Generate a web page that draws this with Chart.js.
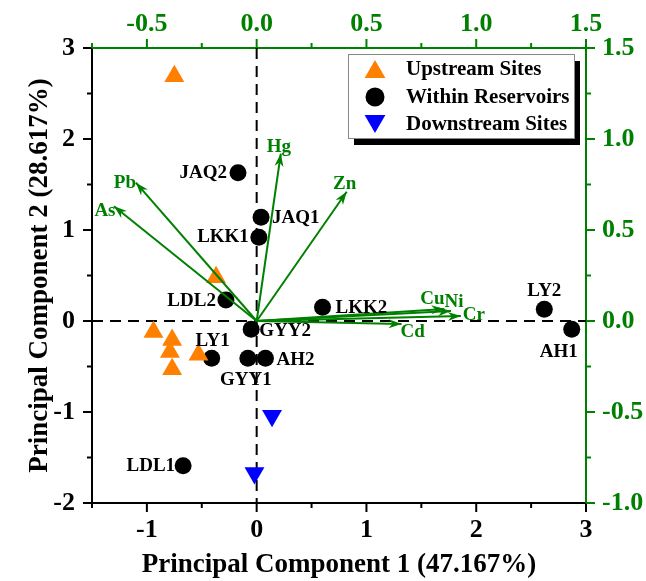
<!DOCTYPE html>
<html>
<head>
<meta charset="utf-8">
<script src="https://cdn.jsdelivr.net/npm/chart.js@4.4.1/dist/chart.umd.min.js"></script>
<style>
  html, body { margin: 0; padding: 0; background: #fff; }
  #wrap { width: 646px; height: 581px; }
</style>
</head>
<body>
<div id="wrap"><canvas id="pca"></canvas></div>
<script>
const upstreamX = [-0.75, -0.37, -0.94, -0.77, -0.79, -0.53, -0.77];
const upstreamY = [2.69, 0.48, -0.12, -0.21, -0.34, -0.37, -0.53];

const reservoirNames = ['JAQ2', 'JAQ1', 'LKK1', 'LDL2', 'GYY2', 'LKK2', 'LY1', 'GYY1', 'AH2', 'LY2', 'AH1', 'LDL1'];
const reservoirX = [-0.17, 0.04, 0.02, -0.28, -0.05, 0.60, -0.41, -0.08, 0.08, 2.62, 2.87, -0.67];
const reservoirY = [1.63, 1.14, 0.92, 0.23, -0.09, 0.15, -0.41, -0.41, -0.41, 0.13, -0.09, -1.59];

const downstreamX = [0.14, -0.02];
const downstreamY = [-1.04, -1.67];

const metalNames = ['Hg', 'Zn', 'Pb', 'As', 'Cu', 'Ni', 'Cr', 'Cd'];
const metalX = [0.11, 0.41, -0.55, -0.65, 0.855, 0.885, 0.93, 0.66];
const metalY = [0.92, 0.71, 0.76, 0.63, 0.066, 0.055, 0.027, -0.016];

// labelled ticks
const pc1TickLabels = [-1, 0, 1, 2, 3];
const pc2TickLabels = [-2, -1, 0, 1, 2, 3];
const topTickLabels = [-0.5, 0, 0.5, 1, 1.5];
const rightTickLabels = [-1, -0.5, 0, 0.5, 1, 1.5];

const GREEN = '#008000';
const ORANGE = '#FF7F00';
const BLUE = '#0000FF';
const SERIF = "'Liberation Serif', 'Times New Roman', serif";

// text placement around the markers: [textAlign, dx, dy]
const scoreLabelPlace = {
  JAQ2: ['right', -11, 0], JAQ1: ['left', 11, 1], LKK1: ['right', -10, 0],
  LDL2: ['right', -10, 1], GYY2: ['left', 8, 2], LKK2: ['left', 13, 1],
  LY1: ['center', 1, -17], GYY1: ['center', -2, 22], AH2: ['left', 11, 2],
  LY2: ['center', 0, -18], AH1: ['center', -13, 23], LDL1: ['right', -8, 0]
};
const metalLabelPlace = {
  Hg: [-2, -6], Zn: [-2, -8], Pb: [-11, 0], As: [-9, 5],
  Cu: [-12, -10], Ni: [3, -9], Cr: [13, -1], Cd: [11, 8]
};

const pts = (xs, ys) => xs.map((x, i) => ({ x, y: ys[i] }));
const near = (a, b) => Math.abs(a - b) < 1e-6;
const inList = (list, v) => list.some(t => near(t, v));

const arrowSets = metalNames.map((name, i) => ({
  label: name,
  type: 'line',
  data: [{ x: 0, y: 0 }, { x: metalX[i], y: metalY[i] }],
  xAxisID: 'x2',
  yAxisID: 'y2',
  borderColor: GREEN,
  borderWidth: 2,
  pointRadius: 0,
  showLine: true,
  fill: false,
  order: 0
}));

const zeroLines = {
  id: 'zeroLines',
  beforeDatasetsDraw(chart) {
    const { ctx, chartArea: a, scales } = chart;
    const x0 = scales.x.getPixelForValue(0);
    const y0 = scales.y.getPixelForValue(0);
    ctx.save();
    ctx.strokeStyle = '#000';
    ctx.lineWidth = 2;
    ctx.setLineDash([11, 7]);
    ctx.beginPath();
    ctx.moveTo(x0, a.top); ctx.lineTo(x0, a.bottom);
    ctx.moveTo(a.left, y0); ctx.lineTo(a.right, y0);
    ctx.stroke();
    ctx.restore();
  }
};

const tickMarks = {
  id: 'tickMarks',
  afterDraw(chart) {
    const ctx = chart.ctx;
    const defs = [
      { id: 'x', major: pc1TickLabels, color: '#000' },
      { id: 'y', major: pc2TickLabels, color: '#000' },
      { id: 'x2', major: topTickLabels, color: GREEN },
      { id: 'y2', major: rightTickLabels, color: GREEN }
    ];
    ctx.save();
    ctx.lineWidth = 2;
    defs.forEach(d => {
      const s = chart.scales[d.id];
      ctx.strokeStyle = d.color;
      s.ticks.forEach(t => {
        const len = inList(d.major, t.value) ? 9 : 5;
        const p = s.getPixelForValue(t.value);
        ctx.beginPath();
        if (d.id === 'x') { ctx.moveTo(p, s.top); ctx.lineTo(p, s.top + len); }
        if (d.id === 'x2') { ctx.moveTo(p, s.bottom); ctx.lineTo(p, s.bottom - len); }
        if (d.id === 'y') { ctx.moveTo(s.right, p); ctx.lineTo(s.right - len, p); }
        if (d.id === 'y2') { ctx.moveTo(s.left, p); ctx.lineTo(s.left + len, p); }
        ctx.stroke();
      });
    });
    ctx.restore();
  }
};

const annotate = {
  id: 'annotate',
  afterDatasetsDraw(chart) {
    const ctx = chart.ctx;
    ctx.save();
    ctx.textBaseline = 'middle';

    // arrowheads + metal labels
    chart.data.datasets.forEach((ds, di) => {
      if (ds.xAxisID !== 'x2') return;
      const meta = chart.getDatasetMeta(di);
      const o = meta.data[0], t = meta.data[1];
      const ang = Math.atan2(t.y - o.y, t.x - o.x);
      const L = 13, W = 4.5, N = 9;
      ctx.save();
      ctx.translate(t.x, t.y);
      ctx.rotate(ang);
      ctx.fillStyle = GREEN;
      ctx.beginPath();
      ctx.moveTo(0, 0);
      ctx.lineTo(-L, -W);
      ctx.lineTo(-N, 0);
      ctx.lineTo(-L, W);
      ctx.closePath();
      ctx.fill();
      ctx.restore();
      const off = metalLabelPlace[ds.label];
      ctx.fillStyle = GREEN;
      ctx.font = `bold 19px ${SERIF}`;
      ctx.textAlign = 'center';
      ctx.fillText(ds.label, t.x + off[0], t.y + off[1]);
    });

    // sample labels
    const rmeta = chart.getDatasetMeta(1);
    ctx.fillStyle = '#000';
    ctx.font = `bold 19px ${SERIF}`;
    rmeta.data.forEach((el, i) => {
      const name = reservoirNames[i];
      const [align, dx, dy] = scoreLabelPlace[name];
      ctx.textAlign = align;
      ctx.fillText(name, el.x + dx, el.y + dy);
    });

    // legend box
    const a = chart.chartArea;
    const bw = 226, bh = 84;
    const bx = a.right - 12 - bw, by = a.top + 6;
    ctx.fillStyle = '#000';
    ctx.fillRect(bx + 6, by + 7, bw, bh);
    ctx.fillStyle = '#fff';
    ctx.fillRect(bx, by, bw, bh);
    ctx.strokeStyle = '#888';
    ctx.lineWidth = 1;
    ctx.strokeRect(bx + 0.5, by + 0.5, bw, bh);
    const rows = [
      { ds: 0, text: 'Upstream Sites', cy: 15, r: 12 },
      { ds: 1, text: 'Within Reservoirs', cy: 43, r: 9.5 },
      { ds: 2, text: 'Downstream Sites', cy: 70, r: 12 }
    ];
    ctx.font = `bold 21px ${SERIF}`;
    ctx.textAlign = 'left';
    rows.forEach(row => {
      const ds = chart.data.datasets[row.ds];
      ctx.fillStyle = ds.backgroundColor;
      const shift = ds.pointStyle === 'triangle' ? (ds.pointRotation ? -3 : 3) : 0;
      Chart.helpers.drawPoint(ctx, {
        pointStyle: ds.pointStyle, radius: row.r,
        rotation: ds.pointRotation || 0, borderWidth: 0
      }, bx + 27, by + row.cy + shift);
      ctx.fillStyle = '#000';
      ctx.fillText(row.text, bx + 58, by + row.cy + 1);
    });
    ctx.restore();
  }
};

const tickFont = { family: SERIF, size: 26, weight: 'bold' };
const titleFont = { family: SERIF, size: 27, weight: 'bold' };

new Chart(document.getElementById('pca'), {
  type: 'scatter',
  data: {
    datasets: [
      {
        label: 'Upstream Sites',
        data: pts(upstreamX, upstreamY),
        pointStyle: 'triangle',
        pointRadius: 11.5,
        backgroundColor: ORANGE,
        borderWidth: 0,
        order: 1
      },
      {
        label: 'Within Reservoirs',
        data: pts(reservoirX, reservoirY),
        pointStyle: 'circle',
        pointRadius: 8.5,
        backgroundColor: '#000',
        borderWidth: 0,
        order: 1
      },
      {
        label: 'Downstream Sites',
        data: pts(downstreamX, downstreamY),
        pointStyle: 'triangle',
        pointRotation: 180,
        pointRadius: 11.5,
        backgroundColor: BLUE,
        borderWidth: 0,
        order: 1
      },
      ...arrowSets
    ]
  },
  options: {
    responsive: true,
    maintainAspectRatio: false,
    animation: false,
    events: [],
    layout: { padding: 0 },
    plugins: { legend: { display: false }, tooltip: { enabled: false } },
    scales: {
      x: {
        type: 'linear', position: 'bottom', min: -1.5, max: 3,
        afterFit: s => { s.height = 78; },
        grid: { display: false, drawTicks: false },
        border: { display: true, color: '#000', width: 2 },
        ticks: {
          stepSize: 0.5, padding: 12, color: '#000', font: tickFont, maxRotation: 0,
          autoSkip: false,
          callback: v => inList(pc1TickLabels, v) ? String(Math.round(v)) : ''
        },
        title: {
          display: true, text: 'Principal Component 1 (47.167%)', color: '#000',
          font: titleFont, padding: { top: 0, bottom: 0 }
        }
      },
      y: {
        type: 'linear', position: 'left', min: -2, max: 3,
        afterFit: s => { s.width = 92; },
        grid: { display: false, drawTicks: false },
        border: { display: true, color: '#000', width: 2 },
        ticks: {
          stepSize: 0.5, padding: 17, color: '#000', font: tickFont, autoSkip: false,
          callback: v => inList(pc2TickLabels, v) ? String(Math.round(v)) : ''
        },
        title: {
          display: true, text: 'Principal Component 2 (28.617%)', color: '#000',
          font: titleFont, padding: { top: 24, bottom: 0 }
        }
      },
      x2: {
        type: 'linear', position: 'top', min: -0.75, max: 1.5,
        afterFit: s => { s.height = 48; },
        grid: { display: false, drawTicks: false },
        border: { display: true, color: GREEN, width: 2 },
        ticks: {
          stepSize: 0.25, padding: 8, color: GREEN, font: tickFont, maxRotation: 0,
          autoSkip: false,
          callback: v => inList(topTickLabels, v) ? v.toFixed(1) : ''
        }
      },
      y2: {
        type: 'linear', position: 'right', min: -1, max: 1.5,
        afterFit: s => { s.width = 60; },
        grid: { display: false, drawTicks: false },
        border: { display: true, color: GREEN, width: 2 },
        ticks: {
          stepSize: 0.25, padding: 16, color: GREEN, font: tickFont, autoSkip: false,
          callback: v => inList(rightTickLabels, v) ? v.toFixed(1) : ''
        }
      }
    }
  },
  plugins: [zeroLines, annotate, tickMarks]
});
</script>
</body>
</html>
